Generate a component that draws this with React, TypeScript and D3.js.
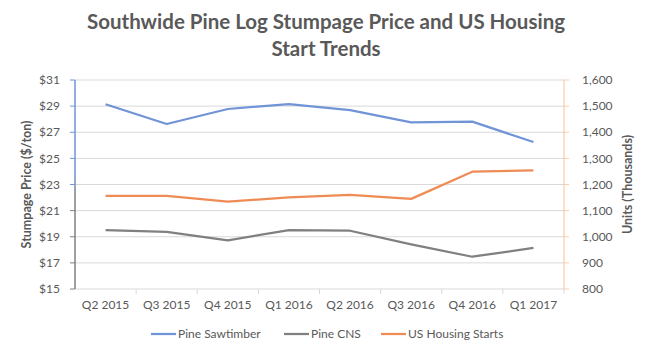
import * as React from "react";
import * as d3 from "d3";

const quarters = ["Q2 2015", "Q3 2015", "Q4 2015", "Q1 2016", "Q2 2016", "Q3 2016", "Q4 2016", "Q1 2017"];
const sawtimber = [29.14, 27.63, 28.78, 29.16, 28.7, 27.76, 27.81, 26.25];
const cns = [19.51, 19.38, 18.73, 19.51, 19.46, 18.42, 17.47, 18.14];
const housing = [1156, 1156, 1134, 1151, 1160, 1145, 1249, 1254];
const priceTicks = [15, 17, 19, 21, 23, 25, 27, 29, 31];
const unitTicks = [800, 900, 1000, 1100, 1200, 1300, 1400, 1500, 1600];

const W = 650;
const H = 354;
const M = { top: 80, right: 86, bottom: 65, left: 75 };
const FONT = "Lato, sans-serif";
const TXT = "#595959";
const BLUE = "#7094d6";
const GRAY = "#808080";
const ORANGE = "#ef8c55";

export default function App() {
  const innerW = W - M.left - M.right;
  const innerH = H - M.top - M.bottom;

  const x = d3.scaleBand<string>().domain(quarters).range([0, innerW]);
  const yL = d3.scaleLinear().domain([15, 31]).range([innerH, 0]);
  const yR = d3.scaleLinear().domain([800, 1600]).range([innerH, 0]);
  const cx = (i: number) => (x(quarters[i]) ?? 0) + x.bandwidth() / 2;

  const lineL = d3.line<number>().x((_, i) => cx(i)).y((d) => yL(d));
  const lineR = d3.line<number>().x((_, i) => cx(i)).y((d) => yR(d));
  const fmtUnits = d3.format(",");

  const legend = [
    { label: "Pine Sawtimber", color: BLUE, x: 151 },
    { label: "Pine CNS", color: GRAY, x: 284 },
    { label: "US Housing Starts", color: ORANGE, x: 381 },
  ];

  return (
    <svg width={W} height={H} style={{ position: "absolute", left: 0, top: 0, fontFamily: FONT }}>
      <defs>
        <linearGradient id="leftAxis" x1="0" y1="0" x2="0" y2="1">
          <stop offset="0%" stopColor={BLUE} />
          <stop offset="45%" stopColor={BLUE} />
          <stop offset="55%" stopColor={GRAY} />
          <stop offset="100%" stopColor={GRAY} />
        </linearGradient>
      </defs>
      <rect width={W} height={H} fill="#fff" />
      <text x={W / 2 + 1} y={29} textAnchor="middle" fontSize={20.5} fontWeight="bold" fill={TXT}>
        Southwide Pine Log Stumpage Price and US Housing
      </text>
      <text x={W / 2 + 1} y={56} textAnchor="middle" fontSize={20.5} fontWeight="bold" fill={TXT}>
        Start Trends
      </text>

      <g transform={`translate(${M.left},${M.top})`}>
        {/* gridlines */}
        {priceTicks.map((t) => (
          <line key={`g${t}`} x1={0} x2={innerW} y1={yL(t)} y2={yL(t)} stroke="#d9d9d9" strokeWidth={1} />
        ))}
        {/* category ticks */}
        {quarters.map((q, i) => (
          <line key={`xt${q}`} x1={(i + 1) * x.bandwidth()} x2={(i + 1) * x.bandwidth()} y1={innerH} y2={innerH + 5} stroke="#d9d9d9" />
        ))}
        {quarters.map((q, i) => (
          <text key={`xl${q}`} x={cx(i)} y={innerH + 20} textAnchor="middle" fontSize={12} fill={TXT}>
            {q}
          </text>
        ))}

        {/* left axis */}
        <rect x={-0.75} y={0} width={1.5} height={innerH} fill="url(#leftAxis)" />
        {priceTicks.map((t) => (
          <g key={`l${t}`}>
            <line x1={-5} x2={0} y1={yL(t)} y2={yL(t)} stroke={t >= 23 ? BLUE : GRAY} />
            <text x={-15} y={yL(t)} dy="0.35em" textAnchor="end" fontSize={12} fill={TXT}>
              ${t}
            </text>
          </g>
        ))}

        {/* right axis */}
        <line x1={innerW} x2={innerW} y1={0} y2={innerH} stroke="#f8cbad" strokeWidth={1.2} />
        {unitTicks.map((t) => (
          <g key={`r${t}`}>
            <line x1={innerW} x2={innerW + 5} y1={yR(t)} y2={yR(t)} stroke="#f8cbad" />
            <text x={innerW + 18} y={yR(t)} dy="0.35em" textAnchor="start" fontSize={12} fill={TXT}>
              {fmtUnits(t)}
            </text>
          </g>
        ))}

        <path d={lineL(sawtimber) ?? ""} fill="none" stroke={BLUE} strokeWidth={2.25} strokeLinejoin="round" />
        <path d={lineL(cns) ?? ""} fill="none" stroke={GRAY} strokeWidth={2.25} strokeLinejoin="round" />
        <path d={lineR(housing) ?? ""} fill="none" stroke={ORANGE} strokeWidth={2.25} strokeLinejoin="round" />
      </g>

      <text transform={`translate(27,${M.top + innerH / 2}) rotate(-90)`} textAnchor="middle" dy="0.35em" fontSize={12.5} fontWeight="bold" fill={TXT}>
        Stumpage Price ($/ton)
      </text>
      <text transform={`translate(628,${M.top + innerH / 2}) rotate(-90)`} textAnchor="middle" dy="0.35em" fontSize={12.5} fontWeight="bold" fill={TXT}>
        Units (Thousands)
      </text>

      {legend.map((l) => (
        <g key={l.label}>
          <line x1={l.x} x2={l.x + 25} y1={334} y2={334} stroke={l.color} strokeWidth={2.25} />
          <text x={l.x + 27} y={334} dy="0.35em" fontSize={12} fill={TXT}>
            {l.label}
          </text>
        </g>
      ))}
    </svg>
  );
}
